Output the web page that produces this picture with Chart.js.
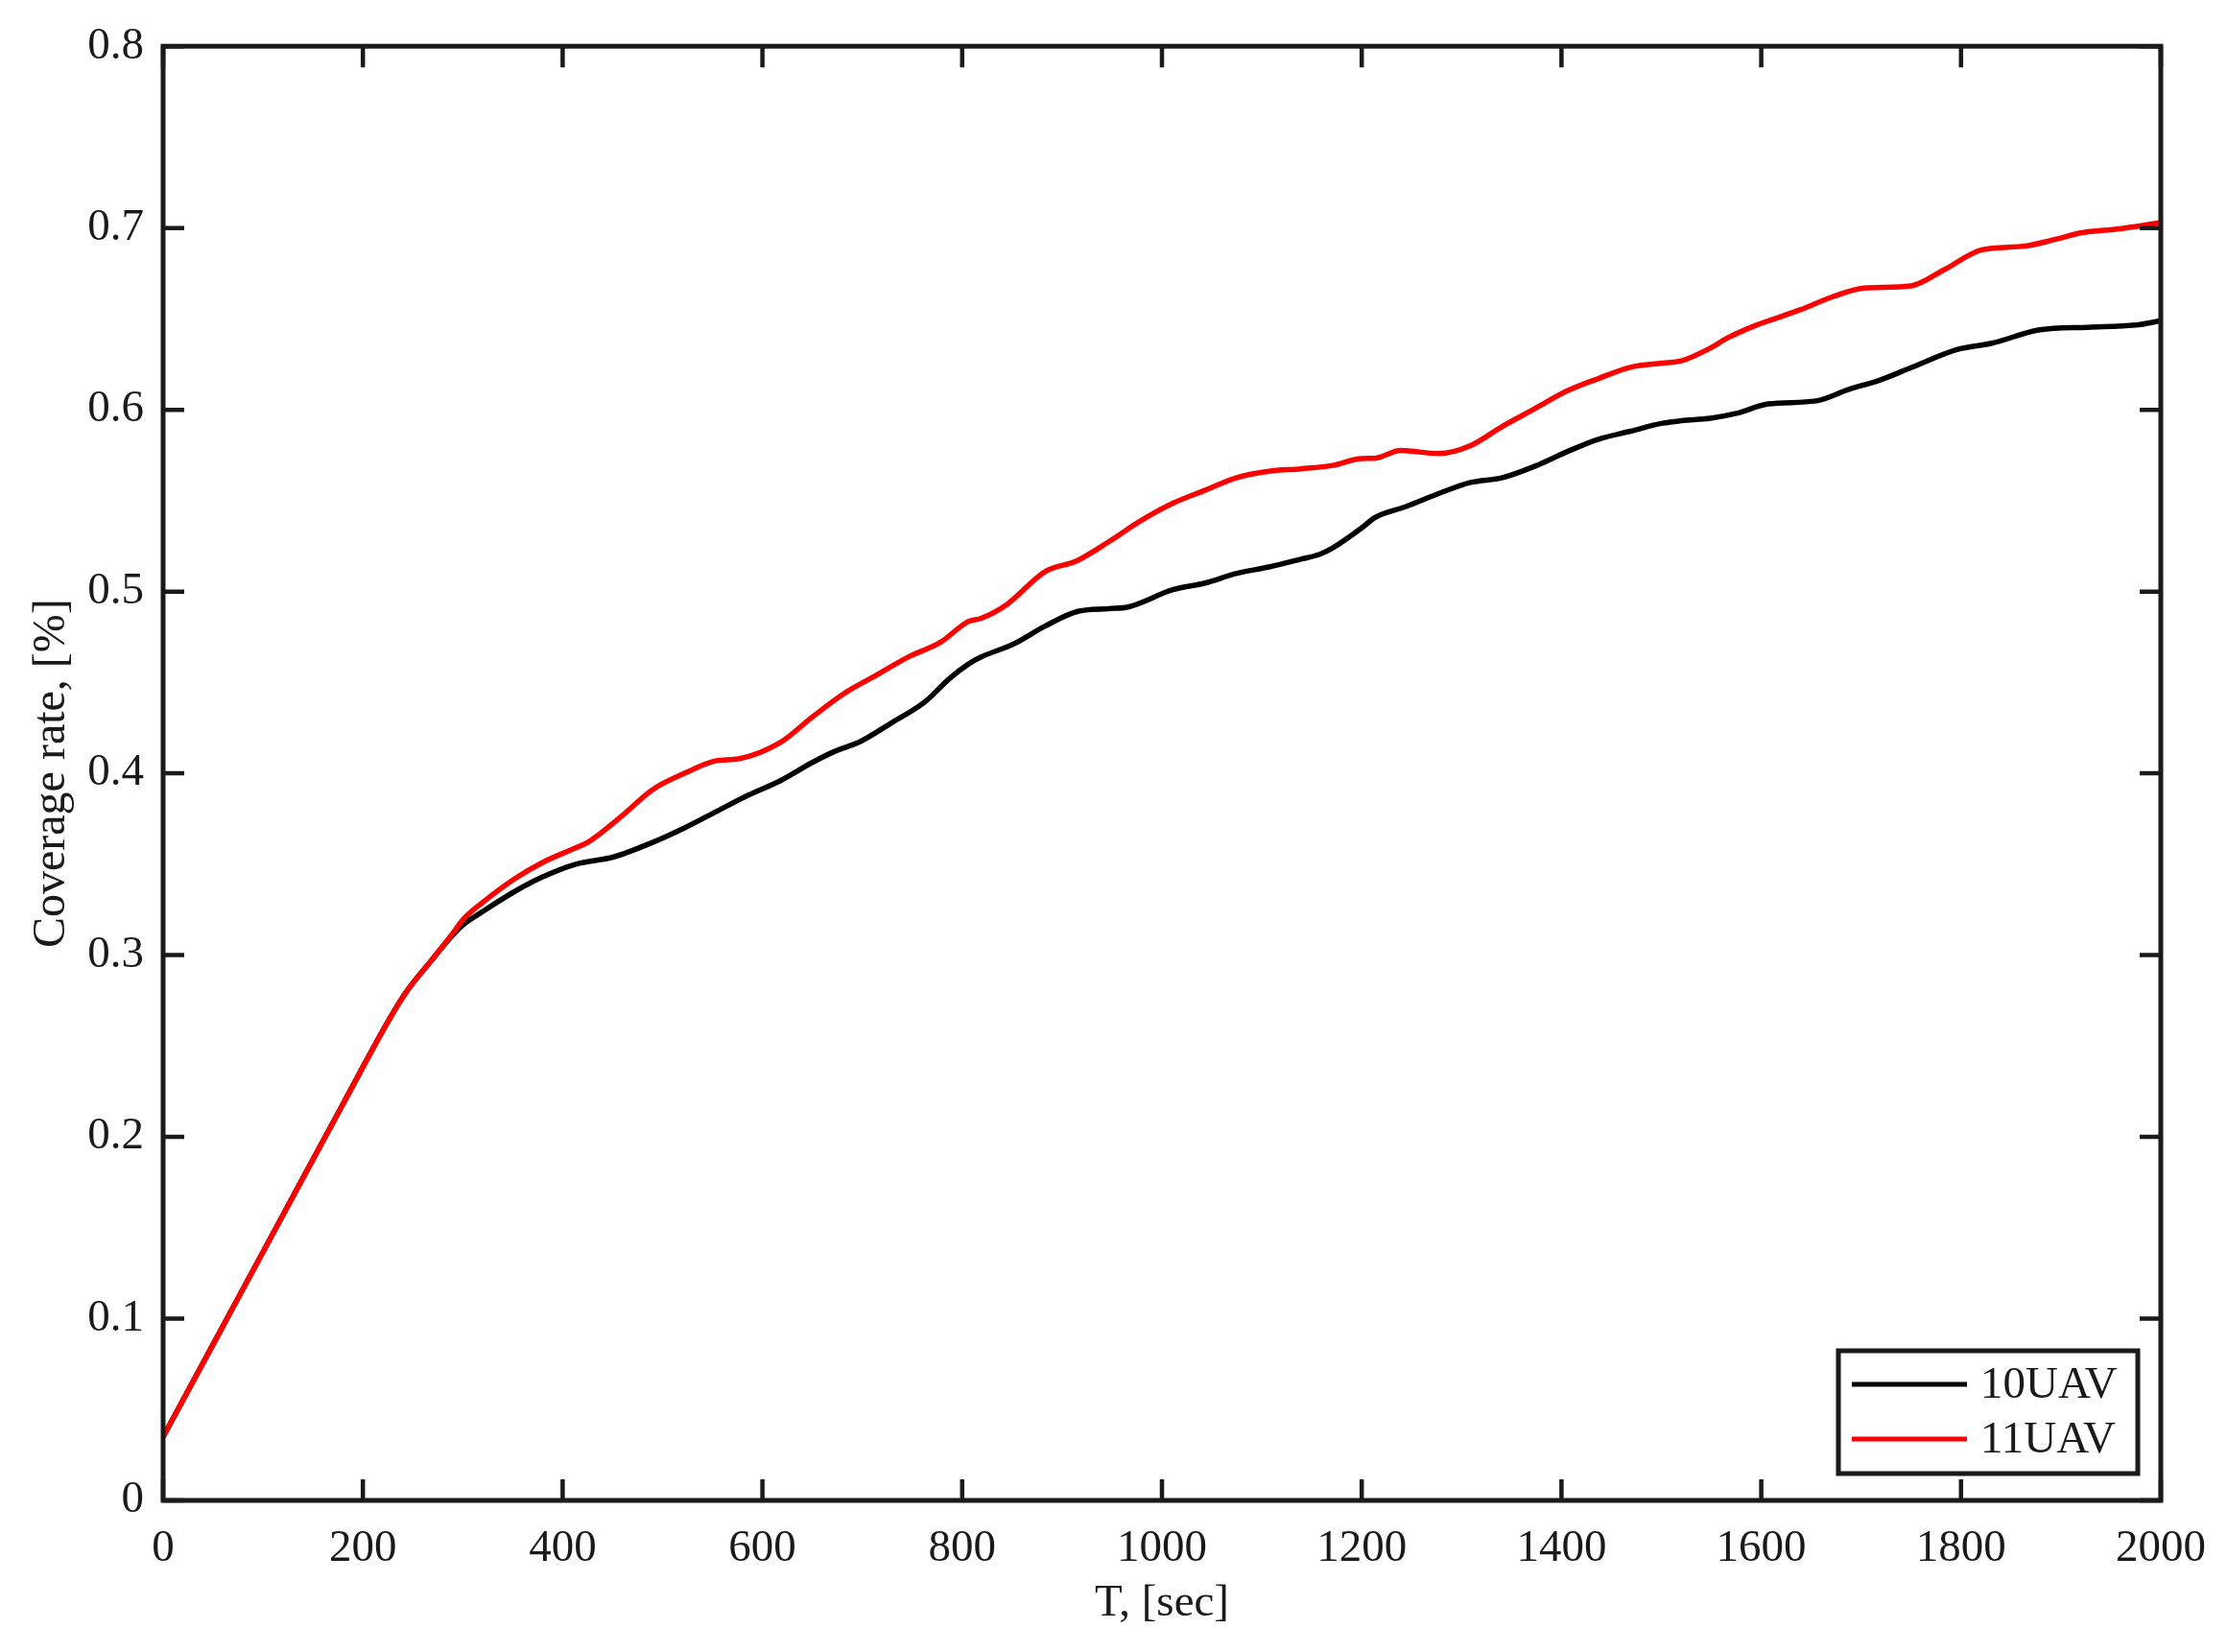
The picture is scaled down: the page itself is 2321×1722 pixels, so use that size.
<!DOCTYPE html>
<html>
<head>
<meta charset="utf-8">
<script src="https://cdn.jsdelivr.net/npm/chart.js@4.4.1/dist/chart.umd.min.js"></script>
<style>
  html, body { margin: 0; padding: 0; background: #ffffff; }
  #wrap { width: 2321px; height: 1722px; }
</style>
</head>
<body>
<div id="wrap"><canvas id="c" width="2321" height="1722"></canvas></div>
<script>
// ---- data ----
const seriesNames = ['10UAV', '11UAV'];
const seriesColors = ['#000000', '#ff0000'];

const t10 = [0, 60, 120, 180, 240, 270, 290, 301, 320, 352, 380, 413, 451, 490, 522, 554, 586, 618, 650, 672, 698, 730, 762, 787, 806, 819, 851, 883, 915, 947, 966, 1011, 1043, 1075, 1107, 1139, 1158, 1171, 1200, 1213, 1245, 1277, 1309, 1341, 1373, 1405, 1437, 1469, 1501, 1520, 1549, 1575, 1607, 1655, 1687, 1719, 1751, 1796, 1831, 1879, 1927, 1975, 2000];
const v10 = [0.035, 0.096, 0.157, 0.218, 0.277, 0.298, 0.311, 0.317, 0.324, 0.335, 0.343, 0.350, 0.354, 0.362, 0.370, 0.379, 0.388, 0.396, 0.406, 0.412, 0.4175, 0.428, 0.439, 0.452, 0.460, 0.464, 0.471, 0.481, 0.489, 0.4906, 0.4915, 0.501, 0.5047, 0.510, 0.5135, 0.5178, 0.5205, 0.524, 0.535, 0.5407, 0.5469, 0.5539, 0.560, 0.5627, 0.5689, 0.5768, 0.5838, 0.5882, 0.5926, 0.594, 0.5953, 0.598, 0.6032, 0.6049, 0.6111, 0.6164, 0.6234, 0.6331, 0.6366, 0.644, 0.6454, 0.6466, 0.649];

const t11 = [0, 60, 120, 180, 240, 270, 290, 301, 320, 352, 380, 413, 425, 458, 490, 522, 554, 576, 618, 650, 682, 714, 746, 778, 806, 819, 845, 883, 915, 947, 979, 1011, 1043, 1075, 1107, 1139, 1171, 1200, 1213, 1239, 1277, 1309, 1341, 1373, 1405, 1437, 1469, 1501, 1520, 1549, 1565, 1594, 1607, 1639, 1671, 1703, 1750, 1783, 1821, 1863, 1895, 1920, 1959, 2000];
const v11 = [0.035, 0.096, 0.157, 0.218, 0.277, 0.298, 0.312, 0.320, 0.329, 0.342, 0.351, 0.359, 0.362, 0.376, 0.391, 0.400, 0.407, 0.408, 0.417, 0.431, 0.444, 0.454, 0.464, 0.472, 0.4835, 0.4853, 0.493, 0.511, 0.517, 0.5275, 0.539, 0.5486, 0.5557, 0.5627, 0.5662, 0.5675, 0.5694, 0.5732, 0.5733, 0.5777, 0.5759, 0.5803, 0.5909, 0.6005, 0.6102, 0.6172, 0.6234, 0.6257, 0.6269, 0.6339, 0.6392, 0.6463, 0.6489, 0.655, 0.6621, 0.667, 0.6682, 0.677, 0.688, 0.690, 0.6938, 0.6973, 0.6996, 0.703];

const xTicks = [0, 200, 400, 600, 800, 1000, 1200, 1400, 1600, 1800, 2000];
const yTicks = [0, 0.1, 0.2, 0.3, 0.4, 0.5, 0.6, 0.7, 0.8];
const xTitle = 'T, [sec]';
const yTitle = 'Coverage rate, [%]';

// ---- styling ----
const FONT = '"Liberation Serif", "Times New Roman", serif';
const TEXT = '#1a1a1a';

function pts(ts, vs) { return ts.map((t, i) => ({ x: t, y: vs[i] })); }

const bgPlugin = {
  id: 'bg',
  beforeDraw(chart) {
    const ctx = chart.ctx;
    ctx.save();
    ctx.fillStyle = '#ffffff';
    ctx.fillRect(0, 0, chart.width, chart.height);
    ctx.restore();
  }
};

const framePlugin = {
  id: 'frame',
  afterDatasetsDraw(chart) {
    const ctx = chart.ctx;
    const a = chart.chartArea;
    const xs = chart.scales.x, ys = chart.scales.y;
    const L = 22;
    ctx.save();
    ctx.strokeStyle = '#1a1a1a';
    ctx.lineWidth = 4.5;
    ctx.lineCap = 'butt';
    ctx.beginPath();
    xTicks.forEach(v => {
      const px = xs.getPixelForValue(v);
      ctx.moveTo(px, a.bottom); ctx.lineTo(px, a.bottom - L);
      ctx.moveTo(px, a.top); ctx.lineTo(px, a.top + L);
    });
    yTicks.forEach(v => {
      const py = ys.getPixelForValue(v);
      ctx.moveTo(a.left, py); ctx.lineTo(a.left + L, py);
      ctx.moveTo(a.right, py); ctx.lineTo(a.right - L, py);
    });
    ctx.stroke();
    ctx.lineWidth = 5;
    ctx.strokeRect(a.left, a.top, a.right - a.left, a.bottom - a.top);
    ctx.restore();

    // legend box (bottom-right, inside the plot)
    const boxW = 312, boxH = 128;
    const bx = a.right - 24 - boxW, by = a.bottom - 28 - boxH;
    ctx.save();
    ctx.fillStyle = '#ffffff';
    ctx.fillRect(bx, by, boxW, boxH);
    ctx.strokeStyle = '#1a1a1a';
    ctx.lineWidth = 5;
    ctx.strokeRect(bx, by, boxW, boxH);
    ctx.font = '47px ' + FONT;
    ctx.textBaseline = 'middle';
    ctx.textAlign = 'left';
    chart.data.datasets.forEach((ds, i) => {
      const y = by + 35 + i * 57;
      ctx.strokeStyle = ds.borderColor;
      ctx.lineWidth = 5;
      ctx.beginPath();
      ctx.moveTo(bx + 14, y);
      ctx.lineTo(bx + 134, y);
      ctx.stroke();
      ctx.fillStyle = TEXT;
      ctx.fillText(ds.label, bx + 148, y + 2);
    });
    ctx.restore();
  }
};

new Chart(document.getElementById('c'), {
  type: 'line',
  data: {
    datasets: [
      { label: seriesNames[0], data: pts(t10, v10), borderColor: seriesColors[0], borderWidth: 5.5, pointRadius: 0, tension: 0.4, cubicInterpolationMode: 'monotone', fill: false, order: 1 },
      { label: seriesNames[1], data: pts(t11, v11), borderColor: seriesColors[1], borderWidth: 5.5, pointRadius: 0, tension: 0.4, cubicInterpolationMode: 'monotone', fill: false, order: 0 }
    ]
  },
  options: {
    responsive: false,
    devicePixelRatio: 1,
    animation: false,
    layout: { padding: { left: 0, right: 68, top: 47, bottom: 0 } },
    plugins: { legend: { display: false }, tooltip: { enabled: false } },
    scales: {
      x: {
        type: 'linear', min: 0, max: 2000,
        afterBuildTicks(s) { s.ticks = xTicks.map(v => ({ value: v })); },
        afterFit(s) { s.height = 158; },
        grid: { display: false, drawTicks: false },
        border: { display: false },
        ticks: { color: TEXT, font: { family: FONT, size: 47 }, padding: 22, maxRotation: 0, autoSkip: false, callback: v => String(v) },
        title: { display: true, text: xTitle, color: TEXT, font: { family: FONT, size: 47 }, padding: { top: 0, bottom: 22 } }
      },
      y: {
        type: 'linear', min: 0, max: 0.8,
        afterBuildTicks(s) { s.ticks = yTicks.map(v => ({ value: v })); },
        afterFit(s) { s.width = 170; },
        grid: { display: false, drawTicks: false },
        border: { display: false },
        ticks: { color: TEXT, font: { family: FONT, size: 47 }, padding: 20, autoSkip: false, callback: v => String(+v.toFixed(1)) },
        title: { display: true, text: yTitle, color: TEXT, font: { family: FONT, size: 48 }, padding: { top: 26, bottom: 0 } }
      }
    }
  },
  plugins: [bgPlugin, framePlugin]
});
</script>
</body>
</html>
